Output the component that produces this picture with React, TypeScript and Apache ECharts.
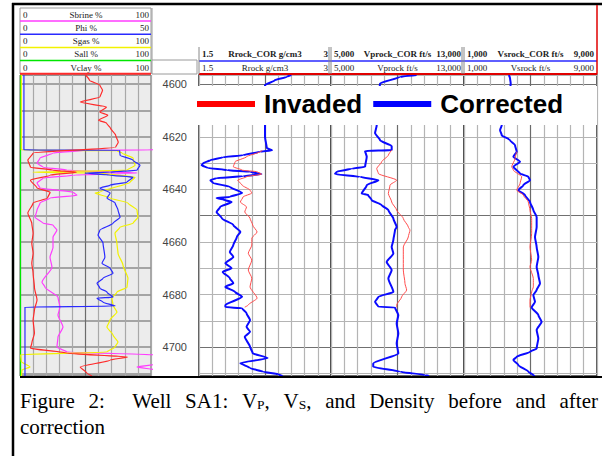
import React, { useEffect, useRef } from 'react';
import * as echarts from 'echarts';

// ---------------- data (depth ft, value) ----------------
const depthMin = 4596.5;
const depthMax = 4711;
const depthTickStep = 10;
const depthLabelStep = 20;

// Track 1 (lithology / saturation), %  (values above 100 sit off the right edge)
const sbrine: [number, number][] = [
  [4596.5, 106], [4625.0, 106], [4625.1, 49.6], [4626.2, 25.2], [4628.1, 15.3], [4630, 13], [4631.6, 17.6],
  [4632.7, 35.9], [4633.8, 89.3], [4634.6, 40.5], [4635.7, 17.6], [4637.6, 13], [4639.5, 15.3], [4641.1, 40.5],
  [4642.2, 43.5], [4643.3, 22.9], [4645.2, 15.3], [4647.9, 13], [4650.6, 11.5], [4652.9, 17.6], [4653.6, 25.2],
  [4655.5, 28.2], [4658.2, 25.2], [4662, 25.2], [4665.8, 22.9], [4669.6, 24.4], [4675.3, 16.8], [4677.2, 19.1],
  [4681, 29], [4684.8, 30.5], [4687.8, 29], [4692.4, 32.8], [4696.2, 29], [4700, 28.2], [4701.9, 35.9],
  [4703, 106], [4706.5, 104], [4707.6, 89.3], [4708.7, 104], [4711, 106],
];
const phi: [number, number][] = [
  [4596.5, 1.5], [4625.0, 1.5], [4625.1, 38], [4627, 38.2], [4628.9, 43.1], [4630.8, 45.8], [4632.7, 44.7],
  [4633.5, 34.4], [4633.8, 24.8], [4634.6, 34.4], [4635.4, 43.1], [4637.3, 40.8], [4638.4, 34.4], [4639.5, 30.5],
  [4641.4, 34.4], [4643.3, 33.2], [4645.2, 36.3], [4647.9, 37.4], [4650.6, 38.2], [4652.9, 35.5], [4655.5, 30.5],
  [4657.4, 29.8], [4660.5, 31.7], [4665.8, 32.4], [4668.1, 31.3], [4670, 34.4], [4671.9, 35.5], [4673.8, 31.7],
  [4675.7, 29.4], [4677.6, 30.5], [4679.1, 33.2], [4681, 35.5], [4681.4, 29.4], [4682.9, 31.7], [4684.4, 36.3],
  [4684.8, 1.9], [4711, 1.9],
];
const sgas: [number, number][] = [
  [4596.5, 1], [4625.0, 1], [4625.3, 74], [4626.2, 77.9], [4628.1, 86.3], [4630.8, 87.8], [4632.7, 81.7],
  [4633.5, 9.9], [4633.8, 61], [4635.4, 87.8], [4637.3, 84], [4641.1, 61], [4641.4, 57.3], [4643.3, 68.7],
  [4645.2, 82.4], [4647.9, 89.3], [4650.6, 90], [4652.9, 86.3], [4654.4, 76.3], [4656.7, 72.5], [4660.5, 74],
  [4664.3, 74.8], [4668.8, 78.6], [4673.8, 82.4], [4677.2, 81.7], [4679.1, 74], [4681.4, 70.2], [4684, 71],
  [4686.7, 74], [4689.7, 68.7], [4692.4, 66.4], [4695.4, 71], [4698.1, 74.8], [4700, 72.5], [4701.9, 66.4],
  [4702.9, 0.5], [4705.5, 1], [4707.6, 7.6], [4708.7, 1.5], [4711, 1],
];
const sall: [number, number][] = [[4596.5, 0.4], [4711, 0.4]];
const vclay: [number, number][] = [
  [4596.5, 50], [4598.5, 53], [4600.4, 61], [4602.3, 63], [4604.9, 61], [4606.8, 46], [4608.7, 66], [4610.6, 61],
  [4611.8, 67], [4613.7, 60], [4614.8, 66], [4616.7, 69], [4619.4, 73], [4622.1, 75], [4624, 73], [4626.2, 10],
  [4628.9, 6], [4631.6, 8], [4632.7, 25], [4633.5, 43], [4634.6, 23], [4636.5, 8], [4639.5, 13], [4641.1, 23],
  [4643.3, 21], [4645.2, 10], [4649, 6], [4652.9, 9], [4656.7, 10], [4660.5, 9], [4664.3, 10], [4668.1, 9],
  [4671.9, 10], [4677.2, 11], [4682.1, 13], [4685.9, 11], [4689.7, 10], [4694.7, 11], [4698.5, 9], [4700.4, 8],
  [4702.3, 36], [4703.8, 82], [4704.9, 69], [4707.6, 46], [4709.9, 51], [4711, 55],
];

// Track 2: density g/cm3
const rhoCorrected: [number, number][] = [
  [4596.5, 2.55], [4597.2, 2.5], [4598.5, 2.36], [4600.4, 2.25], [4606, 2.25], [4610.6, 2.24], [4615.6, 2.25],
  [4620, 2.25], [4624.3, 2.27], [4625.1, 2.33], [4625.7, 2.19], [4627, 2.0], [4627.8, 1.77], [4628.9, 1.63],
  [4630, 1.55], [4630.8, 1.53], [4631.9, 1.6], [4632.7, 1.82], [4633.3, 2.08], [4634.2, 2.21], [4635, 2.0],
  [4635.7, 1.7], [4636.5, 1.63], [4637.6, 1.66], [4639, 1.85], [4641.4, 1.99], [4642.9, 1.85], [4643.3, 1.7],
  [4644.1, 1.8], [4644.8, 1.87], [4646.7, 1.74], [4648.6, 1.7], [4651, 1.76], [4653.6, 1.89], [4656.2, 1.97],
  [4658.1, 1.93], [4661.2, 1.89], [4663.8, 1.85], [4665.7, 1.89], [4668.1, 1.8], [4670, 1.87], [4671.4, 1.77],
  [4673.8, 1.85], [4675.7, 1.89], [4677.1, 1.8], [4679, 1.91], [4680.9, 1.99], [4684, 1.8], [4684.8, 1.8],
  [4685.2, 1.99], [4687.1, 2.04], [4689.7, 2.08], [4692.3, 2.04], [4694.2, 2.08], [4696.1, 2.02], [4699.9, 2.08],
  [4702.3, 2.11], [4704.2, 2.28], [4706.1, 1.97], [4708, 2.08], [4709.4, 2.23], [4710.3, 2.4], [4711, 2.45],
];
const rhoInvaded: [number, number][] = [
  [4625.3, 2.22], [4625.7, 2.19], [4627.6, 2.04], [4629.5, 1.91], [4631.4, 1.89], [4632.7, 1.99], [4633.3, 2.16],
  [4634.2, 2.21], [4635.2, 2.04], [4636.5, 1.94], [4638.4, 1.99], [4640.3, 2.08], [4641.4, 2.1], [4642.9, 2.0],
  [4644.8, 1.97], [4646.7, 2.04], [4648.6, 2.02], [4651, 2.08], [4653.6, 2.11], [4656.2, 2.16], [4658.6, 2.1],
  [4661.2, 2.1], [4664.3, 2.06], [4666.9, 2.1], [4670.7, 2.06], [4673.8, 2.1], [4677.1, 2.08], [4681.4, 2.16],
  [4684, 2.06], [4684.8, 2.02],
];

// Track 3: Vp ft/s
const vpCorrected: [number, number][] = [
  [4596.5, 10150], [4597.2, 9150], [4599.7, 7950], [4606, 7770], [4611.8, 7770], [4615.6, 7750], [4618.6, 7650],
  [4621.3, 7950], [4623.6, 8650], [4625.1, 8650], [4625.4, 7050], [4627.6, 7150], [4631.4, 7050], [4632.1, 6250],
  [4633.3, 5340], [4634.2, 5240], [4635.2, 6740], [4636.5, 7850], [4638.4, 7150], [4641.6, 6850], [4642.2, 7240],
  [4644.1, 7450], [4646, 8050], [4647.9, 8450], [4651.1, 8750], [4654.3, 8950], [4655.5, 8850], [4659.3, 8750],
  [4661.9, 8650], [4664.4, 8750], [4667.6, 8350], [4670.7, 8650], [4673.9, 8450], [4679, 8750], [4680.9, 7850],
  [4682.8, 7650], [4684.7, 7850], [4684.9, 8850], [4687.8, 9050], [4691, 8950], [4694.8, 9050], [4698.6, 8950],
  [4702.4, 9050], [4706.2, 7540], [4707.5, 7540], [4709.4, 9150], [4710.6, 10650], [4711, 10900],
];
const vpInvaded: [number, number][] = [
  [4625.1, 8650], [4627, 8450], [4629.5, 8050], [4632.1, 7750], [4634, 7850], [4636.5, 8950], [4638.4, 8550],
  [4641.6, 8450], [4644.8, 8650], [4647.9, 8950], [4651.1, 9350], [4654.3, 9650], [4655.5, 9750], [4658.1, 9650],
  [4661.9, 9350], [4665.7, 9350], [4670.7, 9350], [4675.8, 9450], [4678.3, 9550], [4680.9, 9250], [4684, 8950],
  [4684.9, 8950],
];

// Track 4: Vs ft/s
const vsCorrected: [number, number][] = [
  [4596.5, 3700], [4597.8, 3770], [4599.7, 3810], [4606, 3650], [4611.8, 3350], [4615.6, 3270], [4617.5, 3170],
  [4619.4, 3270], [4621.3, 3770], [4623.2, 4070], [4625.7, 4170], [4627.6, 3970], [4629.5, 4370], [4631.4, 3970],
  [4634, 4370], [4635.2, 4870], [4636.5, 4970], [4638.4, 4570], [4640.3, 4270], [4642.2, 4670], [4644.8, 4970],
  [4647.9, 5170], [4650.5, 5370], [4654.3, 5370], [4658.1, 5270], [4661.9, 5370], [4665.7, 5470], [4669.5, 5370],
  [4672.6, 5470], [4675.8, 5570], [4678.3, 5370], [4680.2, 5170], [4682.8, 5270], [4684.9, 5070], [4687.8, 5470],
  [4690.4, 5670], [4693.5, 5370], [4696.7, 5470], [4700.5, 5370], [4701.8, 4970], [4703.7, 4170], [4704.9, 3970],
  [4706.8, 4270], [4709.4, 4870], [4710.6, 5170], [4711, 5250],
];
const vsInvaded: [number, number][] = [
  [4625.7, 4170], [4628.3, 4070], [4631.4, 3870], [4632.7, 3970], [4635.2, 4470], [4637.8, 4370], [4640.3, 4170],
  [4642.2, 4570], [4644.8, 4870], [4647.9, 4970], [4651.1, 5070], [4654.3, 5070], [4656.8, 5070], [4661.9, 4970],
  [4666.9, 5070], [4669.5, 4970], [4673.9, 5170], [4677.1, 5170], [4679, 5070], [4682.1, 4970], [4684.9, 4970],
];

// Header labels
const track1Names = ['Sbrine %', 'Phi %', 'Sgas %', 'Sall %', 'Vclay %'];
const track1Mins = ['0', '0', '0', '0', '0'];
const track1Maxs = ['100', '50', '100', '100', '100'];
const trackCorNames = ['Rrock_COR g/cm3', 'Vprock_COR ft/s', 'Vsrock_COR ft/s'];
const trackNames = ['Rrock g/cm3', 'Vprock ft/s', 'Vsrock ft/s'];
const trackMins = [1.5, 5000, 1000];
const trackMaxs = [3, 13000, 9000];
const trackMinLabels = ['1.5', '5,000', '1,000'];
const trackMaxLabels = ['3', '13,000', '9,000'];
const legendNames = ['Invaded', 'Corrected'];
const captionLine1 = ['Figure', '2:', 'Well', 'SA1:', 'V_P,', 'V_S,', 'and', 'Density', 'before', 'and', 'after'];
const captionSpaces = [1, 2, 1, 1, 1, 1, 1, 1, 1, 1];
const captionLine2 = 'correction';

// ---------------- layout / style ----------------
const GRID_TOP = 75;
const GRID_BOTTOM = 376;
const TRACK1_X: [number, number] = [20, 151];
const TRACK_X: [number, number][] = [[199, 331], [331, 464], [464, 597]];
const track1Colors = ['#ff3cff', '#2a2aff', '#f2f200', '#00e600', '#ff2a2a'];
const RED = '#ff4c4c';
const BLUE = '#0a0aff';
const SERIF = '"Liberation Serif", "Times New Roman", serif';
const SANS = '"Liberation Sans", Arial, sans-serif';

export default function App() {
  const ref = useRef<HTMLDivElement>(null);

  useEffect(() => {
    if (!ref.current) return;
    const chart = echarts.init(ref.current, undefined, { renderer: 'svg' });

    const toXY = (arr: [number, number][]) => arr.map(([d, v]) => [v, d]);
    const mkLine = (name: string, data: [number, number][], xi: number, yi: number, color: string, width: number, z = 2) => ({
      type: 'line', name, data: toXY(data), xAxisIndex: xi, yAxisIndex: yi,
      showSymbol: false, symbol: 'none', smooth: 0.2, smoothMonotone: 'y',
      color, itemStyle: { color }, lineStyle: { color, width }, z, silent: true,
    });

    const hidden = { axisLabel: { show: false }, axisTick: { show: false }, axisLine: { show: false } };
    const vColors = (dark: string, light: string) => Array.from({ length: 11 }, (_, k) => (k === 5 ? dark : light));

    const allX: [number, number][] = [TRACK1_X, ...TRACK_X];
    const grid = allX.map(([a, b], i) => ({
      left: a, top: GRID_TOP, width: b - a, height: GRID_BOTTOM - GRID_TOP,
      show: true,
      backgroundColor: i === 0 ? '#ececec' : '#ffffff',
      borderColor: i === 0 ? '#666' : '#333',
      borderWidth: i === 0 ? 1 : 1.6,
    }));

    const xAxis: any[] = [
      { type: 'value', gridIndex: 0, min: 0, max: 100, interval: 10, ...hidden,
        splitLine: { show: true, lineStyle: { color: vColors('#6c6c6c', '#a8a8a8'), width: 1.2 } } },
      { type: 'value', gridIndex: 0, min: 0, max: 50, ...hidden, splitLine: { show: false } },
    ];
    TRACK_X.forEach((_, t) => {
      xAxis.push({
        type: 'value', gridIndex: t + 1, min: trackMins[t], max: trackMaxs[t],
        interval: (trackMaxs[t] - trackMins[t]) / 10, ...hidden,
        splitLine: { show: true, lineStyle: { color: vColors('#6a6a6a', '#b4b4b4'), width: 1.2 } },
      });
    });

    const yAxis = [0, 1, 2, 3].map((g) => ({
      type: 'value', gridIndex: g, inverse: true, min: depthMin, max: depthMax,
      splitNumber: 12, minInterval: depthTickStep, maxInterval: depthTickStep,
      axisLine: { show: false }, axisTick: { show: false },
      axisLabel: g === 1
        ? {
          show: true, margin: 12, fontSize: 11, color: '#444', fontFamily: SANS,
          formatter: (v: number) => (Math.abs(v % depthLabelStep) < 1e-6 ? String(v) : ''),
        }
        : { show: false },
      splitLine: {
        show: true,
        lineStyle: g === 0
          ? { color: '#8c8c8c', width: 1.6 }
          : { color: ['#b4b4b4', '#707070', '#b4b4b4', '#b4b4b4', '#b4b4b4'], width: 1.2 },
      },
    }));

    const series: any[] = [
      mkLine('Sall', sall, 0, 0, track1Colors[3], 1.2),
      mkLine('Sbrine', sbrine, 0, 0, track1Colors[0], 1.2),
      mkLine('Sgas', sgas, 0, 0, track1Colors[2], 1.2),
      mkLine('Phi', phi, 1, 0, track1Colors[1], 1.2),
      mkLine('Vclay', vclay, 0, 0, track1Colors[4], 1.2),
      mkLine('Corrected', rhoCorrected, 2, 1, BLUE, 2),
      mkLine('Invaded', rhoInvaded, 2, 1, RED, 1, 3),
      mkLine('Corrected', vpCorrected, 3, 2, BLUE, 2),
      mkLine('Invaded', vpInvaded, 3, 2, RED, 1, 3),
      mkLine('Corrected', vsCorrected, 4, 3, BLUE, 2),
      mkLine('Invaded', vsInvaded, 4, 3, RED, 1, 3),
    ];

    // ---------- graphics ----------
    const Z = 50;
    const gl = (x1: number, y1: number, x2: number, y2: number, stroke: string, lineWidth = 1) => ({
      type: 'line', z: Z, silent: true, shape: { x1, y1, x2, y2 }, style: { stroke, lineWidth },
    });
    const gt = (x: number, y: number, text: string, align: string, opts: any = {}) => ({
      type: 'text', z: Z, silent: true, x, y,
      style: { text, align, verticalAlign: 'middle', fill: '#222', fontSize: 9, fontFamily: SERIF, ...opts },
    });
    const graphics: any[] = [];

    // outer frame
    graphics.push(gl(13, 3, 13, 456, '#000', 2.5));
    graphics.push(gl(12, 4, 602, 4, '#000', 2.5));
    graphics.push(gl(20, 377, 602, 377, '#000', 2));

    // track 1 header
    graphics.push({ type: 'rect', z: Z, silent: true, shape: { x: 20, y: 8, width: 131, height: 66 }, style: { fill: 'none', stroke: '#9a9a9a', lineWidth: 1 } });
    track1Names.forEach((nm, i) => {
      const ly = 21 + 13.2 * i;
      const ty = ly - 6.3;
      graphics.push(gt(23, ty, track1Mins[i], 'left'));
      graphics.push(gt(86, ty, nm, 'center'));
      graphics.push(gt(149, ty, track1Maxs[i], 'right'));
      graphics.push(gl(20, ly, 151, ly, track1Colors[i], i === 4 ? 2 : 1.5));
    });

    // depth column header
    graphics.push(gl(152, 8, 152, 74, '#9a9a9a', 1));
    graphics.push({ type: 'rect', z: Z, silent: true, shape: { x: 152, y: 60, width: 45, height: 14 }, style: { fill: '#fff', stroke: '#9a9a9a', lineWidth: 1 } });

    // log tracks headers
    TRACK_X.forEach(([a, b], t) => {
      graphics.push(gt(a + 3, 54, trackMinLabels[t], 'left', { fontWeight: 'bold' }));
      graphics.push(gt((a + b) / 2, 54, trackCorNames[t], 'center', { fontWeight: 'bold' }));
      graphics.push(gt(b - 3, 54, trackMaxLabels[t], 'right', { fontWeight: 'bold' }));
      graphics.push(gl(a, 61, b, 61, '#2a2aff', 1.6));
      graphics.push(gt(a + 3, 67.5, trackMinLabels[t], 'left'));
      graphics.push(gt((a + b) / 2, 67.5, trackNames[t], 'center'));
      graphics.push(gt(b - 3, 67.5, trackMaxLabels[t], 'right'));
      graphics.push(gl(a, 74, b, 74, '#e00000', 2));
      graphics.push(gl(a, 47, a, 74, '#888', 1));
    });
    graphics.push(gl(329, 47, 329, 74, '#888', 1));
    graphics.push(gl(462, 47, 462, 74, '#888', 1));
    graphics.push(gl(597, 5, 597, 74, '#e00000', 1.5));

    // legend white box
    graphics.push({ type: 'rect', z: Z, silent: true, shape: { x: 197, y: 86, width: 400, height: 39 }, style: { fill: '#fff' } });

    // caption (justified first line)
    const ctx = document.createElement('canvas').getContext('2d') as CanvasRenderingContext2D;
    const CAP = 21, SUB = 13.5;
    const mw = (t: string, s: number) => { ctx.font = `${s}px "Liberation Serif"`; return ctx.measureText(t).width; };
    const toks = captionLine1.map((tok) => {
      const parts: { t: string; sub: boolean }[] = [];
      for (let i = 0; i < tok.length; i++) {
        if (tok[i] === '_') { parts.push({ t: tok[i + 1], sub: true }); i++; }
        else {
          const last = parts[parts.length - 1];
          if (last && !last.sub) last.t += tok[i]; else parts.push({ t: tok[i], sub: false });
        }
      }
      const width = parts.reduce((s, p) => s + mw(p.t, p.sub ? SUB : CAP), 0);
      const rich = parts.map((p) => `{${p.sub ? 's' : 'n'}|${p.t}}`).join('');
      return { width, rich };
    });
    const capL = 20, capR = 598;
    const total = toks.reduce((s, k) => s + k.width, 0);
    const units = captionSpaces.reduce((s, k) => s + k, 0);
    const gap = (capR - capL - total) / units;
    const richStyles = {
      n: { fontSize: CAP, fontFamily: SERIF, fill: '#000' },
      s: { fontSize: SUB, fontFamily: SERIF, fill: '#000', lineHeight: 8, verticalAlign: 'bottom' },
    };
    let cx = capL;
    toks.forEach((k, i) => {
      graphics.push({ type: 'text', z: Z, silent: true, x: cx, y: 401,
        style: { text: k.rich, rich: richStyles, align: 'left', verticalAlign: 'middle', fill: '#000', fontSize: CAP, fontFamily: SERIF } });
      cx += k.width + (i < captionSpaces.length ? captionSpaces[i] * gap : 0);
    });
    graphics.push({ type: 'text', z: Z, silent: true, x: capL, y: 427,
      style: { text: captionLine2, align: 'left', verticalAlign: 'middle', fill: '#000', fontSize: CAP, fontFamily: SERIF } });

    chart.setOption({
      animation: false,
      backgroundColor: '#ffffff',
      grid, xAxis, yAxis, series,
      legend: {
        data: [
          { name: legendNames[0], itemStyle: { color: '#ff0000' } },
          { name: legendNames[1], itemStyle: { color: '#0000ff' } },
        ],
        left: 197, top: 91, padding: 0, itemWidth: 58, itemHeight: 6, itemGap: 11,
        icon: 'rect', selectedMode: false, z: 100,
        textStyle: { fontFamily: SANS, fontWeight: 'bold', fontSize: 26, color: '#000', padding: [0, 0, 0, 4] },
      },
      graphic: { elements: graphics },
    });

    return () => chart.dispose();
  }, []);

  return (
    <div
      ref={ref}
      style={{ position: 'fixed', left: 0, top: 0, width: 602, height: 456, background: '#fff' }}
    />
  );
}
